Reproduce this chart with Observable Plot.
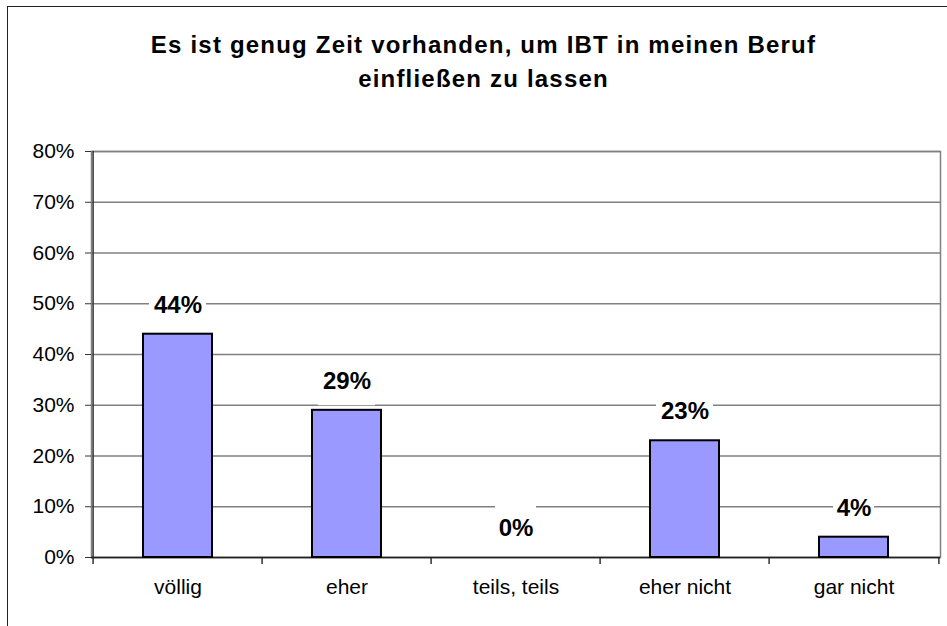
<!DOCTYPE html>
<html><head><meta charset="utf-8">
<script src="https://cdn.jsdelivr.net/npm/d3@7"></script>
<script src="https://cdn.jsdelivr.net/npm/@observablehq/plot@0.6"></script>
<style>
body{margin:0;background:#fff;font-family:"Liberation Sans",Arial,sans-serif;}
#wrap{position:relative;width:947px;height:626px;overflow:hidden;background:#fff;}
#border{position:absolute;left:7px;top:6px;width:1000px;height:700px;border:1.5px solid #222;}
#title{position:absolute;left:10px;width:947px;top:28px;text-align:center;font-weight:bold;font-size:24px;letter-spacing:1.2px;line-height:34px;color:#000;}
#chart{position:absolute;left:0;top:0;}
</style></head>
<body>
<div id="wrap">
  <div id="border"></div>
  <div id="chart"></div>
  <div id="title">Es ist genug Zeit vorhanden, um IBT in meinen Beruf<br>einfließen zu lassen</div>
</div>
<script>
const categories = ["völlig", "eher", "teils, teils", "eher nicht", "gar nicht"];
const values = [0.44, 0.29, 0.0, 0.23, 0.04];
const valueLabels = ["44%", "29%", "0%", "23%", "4%"];
const yTicks = [0, 0.1, 0.2, 0.3, 0.4, 0.5, 0.6, 0.7, 0.8];
const yTickLabels = ["0%", "10%", "20%", "30%", "40%", "50%", "60%", "70%", "80%"];

const data = categories.map((c, i) => ({cat: c, value: values[i], label: valueLabels[i]}));
const half = (947 - 91 - 7) / 5 / 2;

const chart = Plot.plot({
  width: 947, height: 626,
  marginTop: 151, marginBottom: 69, marginLeft: 91, marginRight: 7,
  style: {fontFamily: '"Liberation Sans", Arial, sans-serif', fontSize: "21px", color: "#000", background: "transparent"},
  x: {domain: categories, padding: 0, label: null},
  y: {domain: [0, 0.8], label: null},
  marks: [
    Plot.gridY(yTicks, {stroke: "#808080", strokeOpacity: 1, strokeWidth: 1.5}),
    Plot.frame({stroke: "#808080", strokeWidth: 1.5}),
    Plot.axisY(yTicks, {tickFormat: (d, i) => yTickLabels[i], tickSize: 6, tickPadding: 11, fontSize: 21, label: null, stroke: "#333"}),
    Plot.axisX({tickSize: 0, tickPadding: 22, fontSize: 21, label: null}),
    Plot.ruleX(categories, {dx: -half, y1: 0, y2: 0, insetBottom: -7, stroke: "#333", strokeWidth: 1.5}),
    Plot.ruleX([categories[categories.length - 1]], {dx: half, y1: 0, y2: 0, insetBottom: -7, stroke: "#333", strokeWidth: 1.5}),
    Plot.ruleX([categories[0]], {dx: -half, stroke: "#333", strokeWidth: 1.5}),
    Plot.ruleY([0], {stroke: "#222", strokeWidth: 1.5}),
    Plot.barY(data, {x: "cat", y: "value", fill: "#9999ff", stroke: "#000", strokeWidth: 2, insetLeft: 50, insetRight: 50}),
    Plot.tickY(data.filter(d => d.label.length === 3), {x: "cat", y: "value", dy: -29, stroke: "white", strokeWidth: 48, insetLeft: 56, insetRight: 56}),
    Plot.tickY(data.filter(d => d.label.length === 2), {x: "cat", y: "value", dy: -29, stroke: "white", strokeWidth: 48, insetLeft: 64, insetRight: 64}),
    Plot.text(data, {x: "cat", y: "value", text: "label", dy: -29, fontSize: 24, fontWeight: "bold", fill: "#000"})
  ]
});
document.getElementById("chart").appendChild(chart);
</script>
</body></html>
